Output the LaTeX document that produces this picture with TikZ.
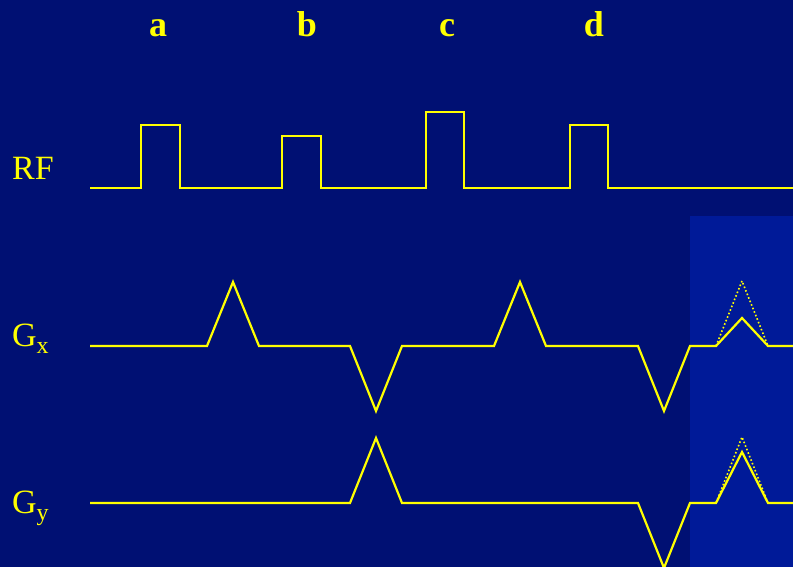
\documentclass[tikz,border=0pt]{standalone}
\usepackage{fontspec}
\setmainfont{Liberation Serif}
\definecolor{slidebg}{RGB}{0,16,115}
\definecolor{shadebg}{RGB}{0,26,152}
\definecolor{pulse}{RGB}{255,255,0}

\begin{document}
\begin{tikzpicture}[x=1pt, y=-1pt, line width=2.2pt,
  wave/.style={draw=pulse},
  ghost/.style={draw=pulse, line width=1.6pt, dash pattern=on 1.6pt off 2.2pt},
  axislabel/.style={text=pulse, font=\fontsize{34}{40}\selectfont, anchor=base west, inner sep=0pt},
  steplabel/.style={text=pulse, font=\bfseries\fontsize{36}{40}\selectfont, anchor=base, inner sep=0pt}]
  % coordinates in pixels, y downwards
  \useasboundingbox (0,0) rectangle (793,567);
  \fill[slidebg] (0,0) rectangle (793,567);
  \clip (0,0) rectangle (793,567);
  \fill[shadebg] (690,216) rectangle (793,567);

  \foreach \name/\xpos in {a/158, b/307, c/447, d/594}
    \node[steplabel] (\name) at (\xpos,37) {\name};

  \node[axislabel] (rf) at (11,180) {RF};
  \node[axislabel] (gx) at (11,346) {G\raisebox{-7pt}{\fontsize{24}{26}\selectfont x}};
  \node[axislabel] (gy) at (11,513) {G\raisebox{-7pt}{\fontsize{24}{26}\selectfont y}};

  % RF pulses
  \draw[wave] (90,188) -- (141,188) -- (141,125) -- (180,125) -- (180,188)
    -- (282,188) -- (282,136) -- (321,136) -- (321,188)
    -- (426,188) -- (426,112) -- (464,112) -- (464,188)
    -- (570,188) -- (570,125) -- (608,125) -- (608,188) -- (793,188);

  % read gradient
  \draw[wave] (90,346) -- (207,346) -- (233,282) -- (259,346) -- (350,346)
    -- (376,411) -- (402,346) -- (494,346) -- (520,282) -- (546,346)
    -- (638,346) -- (664,411) -- (690,346) -- (716,346) -- (742,318)
    -- (768,346) -- (793,346);
  \draw[ghost] (716,346) -- (742,281) -- (768,346);

  % phase gradient
  \draw[wave] (90,503) -- (350,503) -- (376,438) -- (402,503) -- (638,503)
    -- (664,568) -- (690,503) -- (716,503) -- (742,452) -- (768,503) -- (793,503);
  \draw[ghost] (716,503) -- (742,437) -- (768,503);
\end{tikzpicture}
\end{document}
